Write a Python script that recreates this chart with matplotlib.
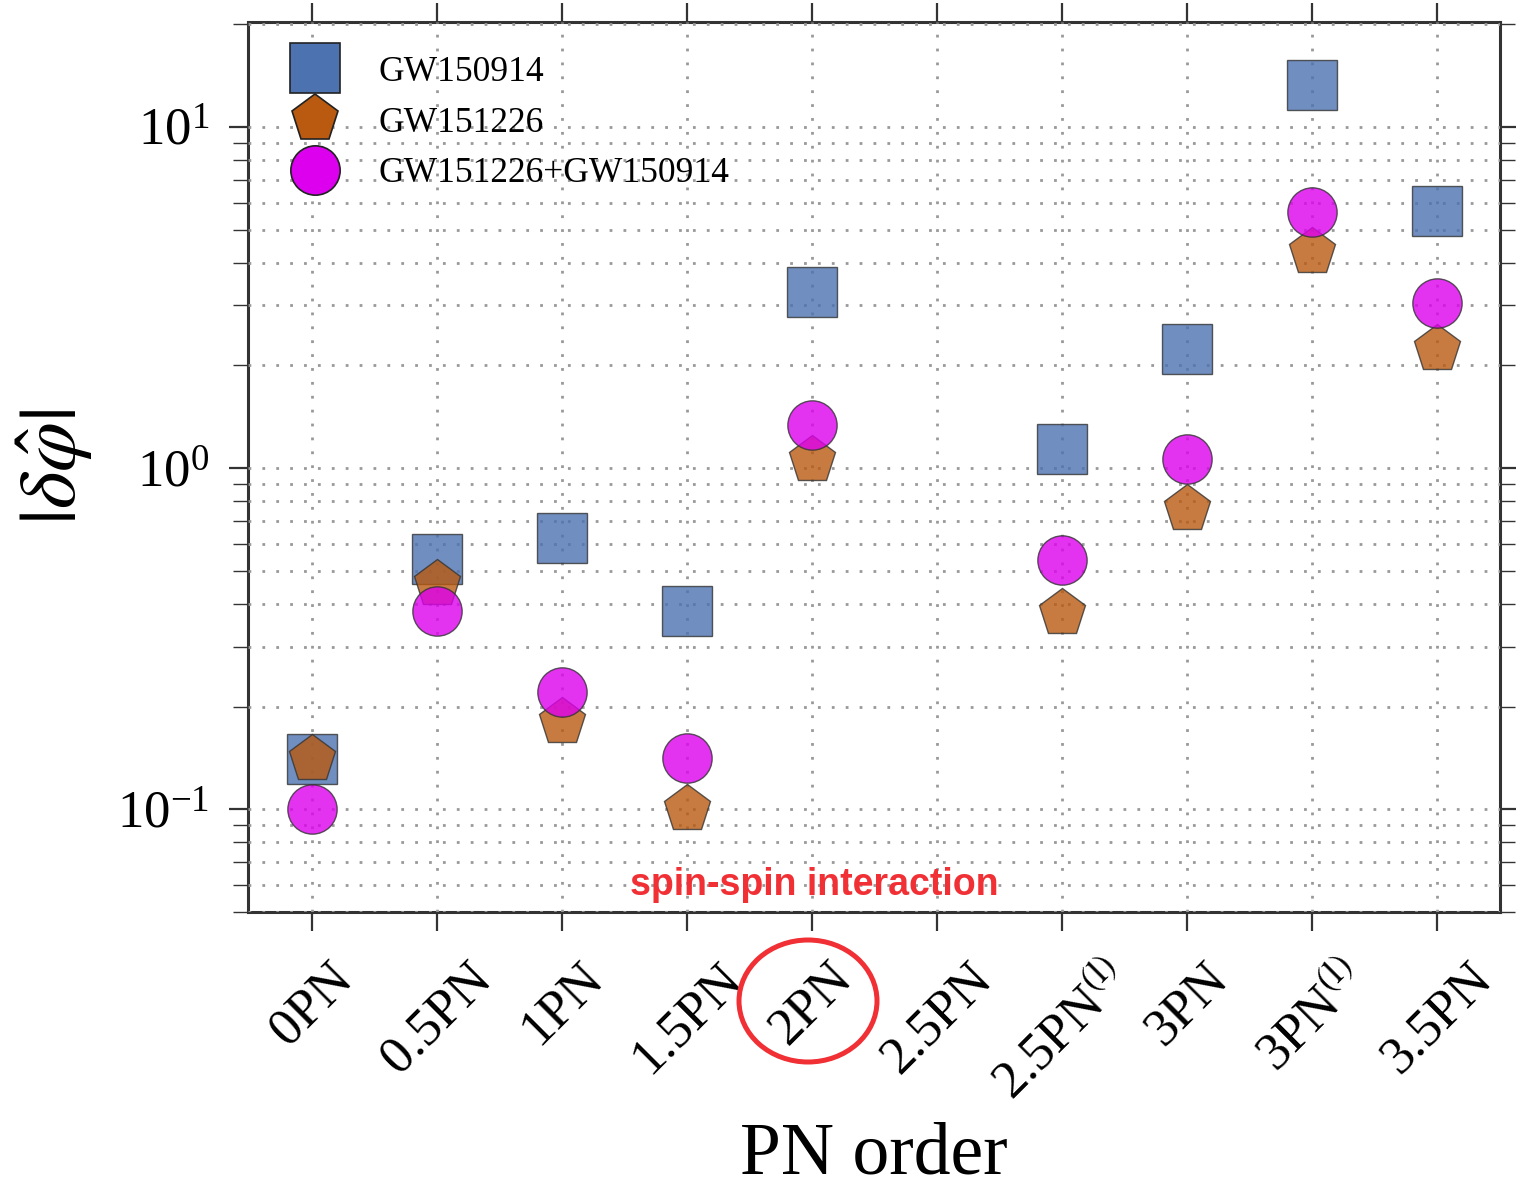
import matplotlib
matplotlib.use("Agg")
import matplotlib.pyplot as plt
from matplotlib.patches import Ellipse
from matplotlib.ticker import LogLocator, NullFormatter

# PN orders and bounds on the deviation parameters
orders = ["0PN", "0.5PN", "1PN", "1.5PN", "2PN", "2.5PN",
          r"2.5PN$^{(\mathrm{l})}$", "3PN", r"3PN$^{(\mathrm{l})}$", "3.5PN"]
gw150914 = [0.140, 0.543, 0.623, 0.381, 3.28, None, 1.137, 2.23, 13.3, 5.67]
gw151226 = [0.140, 0.457, 0.180, 0.100, 1.056, None, 0.376, 0.758, 4.30, 2.23]
combined = [0.100, 0.381, 0.221, 0.141, 1.337, None, 0.537, 1.063, 5.65, 3.05]

plt.rcParams["font.family"] = ["Liberation Serif", "DejaVu Serif"]
plt.rcParams["mathtext.fontset"] = "stix"

fig = plt.figure(figsize=(15.16, 11.92), dpi=100)
ax = fig.add_axes([248 / 1516, 1 - 912 / 1192, 1252 / 1516, 890 / 1192])


def pts(vals):
    xs = [i for i, v in enumerate(vals) if v is not None]
    ys = [v for v in vals if v is not None]
    return xs, ys


series = [
    (gw150914, "s", "#4C72B0", "GW150914"),
    (gw151226, "p", "#B95A10", "GW151226"),
    (combined, "o", "#DD00EE", "GW151226+GW150914"),
]
for z, (vals, mk, col, lab) in enumerate(series):
    xs, ys = pts(vals)
    ax.plot(xs, ys, linestyle="none", marker=mk, markersize=35.5,
            markerfacecolor=col, markeredgecolor="#333333", markeredgewidth=1.0,
            alpha=0.8, zorder=3 + z)
    # legend proxy drawn opaque
    ax.plot([], [], linestyle="none", marker=mk, markersize=35.5,
            markerfacecolor=col, markeredgecolor="#222222", markeredgewidth=1.2,
            label=lab)

ax.set_yscale("log")
ax.set_ylim(0.05, 20.3)
ax.set_xlim(-0.51, 9.5)
ax.set_xticks(range(len(orders)))
ax.set_xticklabels(orders, rotation=45, fontsize=38)

ax.yaxis.set_major_locator(LogLocator(base=10))
ax.yaxis.set_minor_locator(LogLocator(base=10, subs=range(2, 10)))
ax.yaxis.set_minor_formatter(NullFormatter())

gridstyle = dict(color="#999999", linestyle=(0, (1, 4)), linewidth=2.0)
ax.grid(True, which="major", axis="both", **gridstyle)
ax.grid(True, which="minor", axis="y", **gridstyle)
ax.set_axisbelow(False)

ax.tick_params(axis="both", which="major", direction="out", length=14, width=1.6,
               color="#333333", top=True, right=True, labelsize=38, pad=14)
ax.tick_params(axis="y", which="minor", direction="out", length=11, width=1.0,
               color="#333333", right=True)
ax.tick_params(axis="x", which="major", pad=16)
for s in ax.spines.values():
    s.set_linewidth(2.2)
    s.set_color("#333333")

ax.set_xlabel("PN order", fontsize=53, labelpad=10)
ax.set_ylabel(r"$|\delta\hat{\varphi}|$", fontsize=58, labelpad=16)

leg = ax.legend(loc="upper left", bbox_to_anchor=(0.039, 0.962), frameon=False,
                fontsize=25.5, handlelength=1.0, handletextpad=1.3,
                labelspacing=0.5, borderpad=0, borderaxespad=0, numpoints=1)

# highlight of the spin-spin term
ax.text(4.02, 0.0600, "spin-spin interaction", color="#F03035", fontsize=27,
        fontweight="bold", family="Liberation Sans", ha="center", va="center",
        zorder=10)
fig.patches.append(Ellipse((808 / 1516, 1 - 1001 / 1192), 138 / 1516, 122 / 1192,
                           transform=fig.transFigure, fill=False,
                           edgecolor="#F03035", linewidth=3.6))

fig.savefig("out.png", dpi=100)
